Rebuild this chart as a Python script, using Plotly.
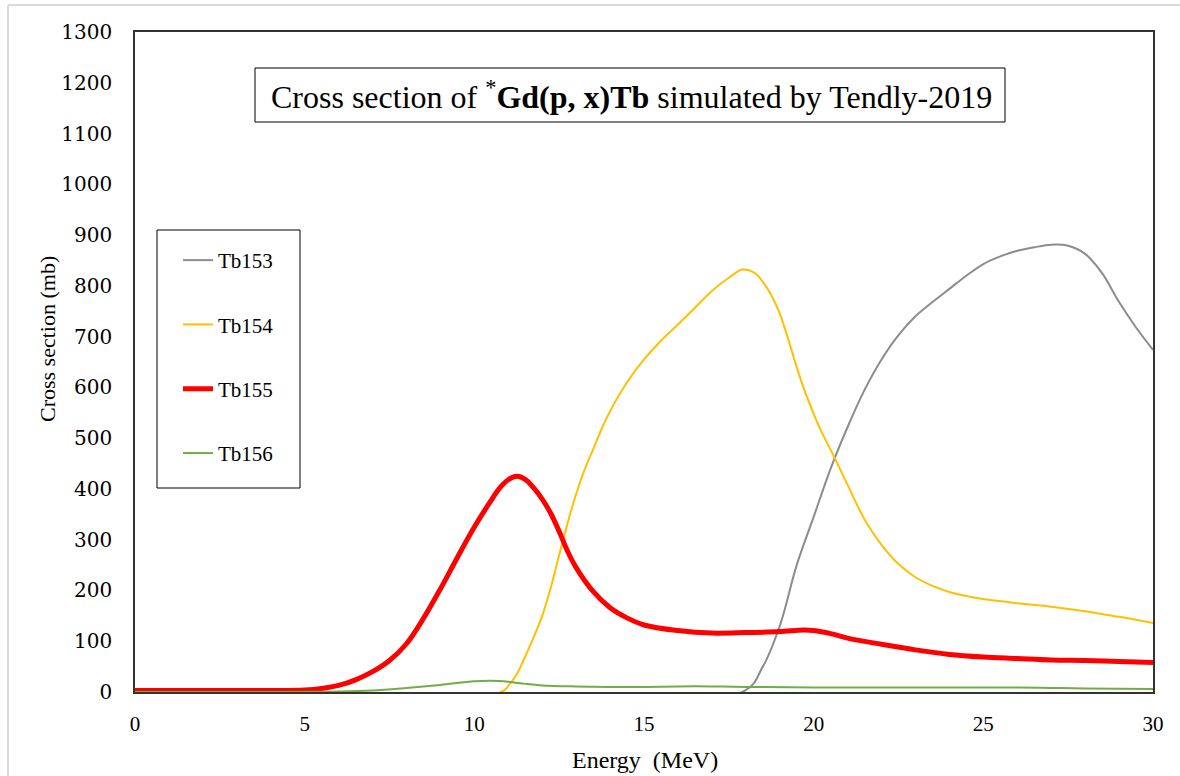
import plotly.graph_objects as go

# ---- data ----
e153 = [0, 17.9, 18.5, 19.0, 19.5, 20.0, 20.5, 21.0, 21.5, 22.0, 22.5, 23.0, 23.5, 24.0, 24.5, 25.0, 25.5, 26.0, 26.5, 27.0, 27.5, 28.0, 28.5, 29.0, 29.5, 30.0]
tb153 = [0, 0, 50, 130, 250, 345, 440, 522, 595, 655, 703, 740, 768, 794, 820, 843, 858, 869, 876, 881, 879, 863, 825, 768, 718, 674]

e154 = [0, 10.8, 11.0, 11.25, 11.5, 11.75, 12.0, 12.25, 12.5, 12.75, 13.0, 13.25, 13.5, 13.75, 14.0, 14.5, 15.0, 15.5, 16.0, 16.5, 17.0, 17.5, 17.9, 18.25, 18.5, 18.75, 19.0, 19.25, 19.5, 19.75, 20.0, 20.25, 20.5, 20.75, 21.0, 21.5, 22.0, 22.5, 23.0, 23.5, 24.0, 24.5, 25.0, 26.0, 27.0, 28.0, 29.0, 30.0]
tb154 = [0, 0, 12, 35, 70, 108, 150, 205, 270, 333, 390, 438, 478, 518, 553, 610, 655, 692, 724, 757, 790, 816, 832, 826, 808, 782, 746, 695, 640, 590, 548, 510, 477, 443, 408, 340, 290, 252, 226, 209, 197, 189, 183, 175, 168, 159, 148, 136]

e155 = [0, 4.0, 5.0, 5.5, 6.0, 6.5, 7.0, 7.5, 8.0, 8.5, 9.0, 9.5, 10.0, 10.5, 10.75, 11.0, 11.25, 11.5, 11.75, 12.0, 12.25, 12.5, 12.75, 13.0, 13.5, 14.0, 14.5, 15.0, 16.0, 17.0, 18.0, 19.0, 19.7, 20.0, 20.5, 21.0, 22.0, 23.0, 24.0, 25.0, 26.0, 27.0, 28.0, 29.0, 30.0]
tb155 = [3, 3, 4, 7, 13, 24, 40, 62, 95, 145, 203, 265, 325, 378, 402, 418, 425, 419, 402, 380, 352, 316, 277, 245, 198, 166, 146, 132, 121, 116, 117, 119, 122, 121, 115, 106, 94, 83, 74, 69, 66, 63, 62, 60, 58]

e156 = [0, 6.0, 7.0, 8.0, 9.0, 10.0, 10.5, 11.0, 11.5, 12.0, 13.0, 14.0, 15.0, 16.0, 17.0, 18.0, 20.0, 22.0, 24.0, 26.0, 27.0, 28.0, 30.0]
tb156 = [0, 1, 3, 8, 14, 21, 22, 20, 16, 13, 11, 10, 10, 11, 11, 10, 9, 9, 9, 9, 8, 7, 6]

names = ["Tb153", "Tb154", "Tb155", "Tb156"]
colors = ["#8C8C8C", "#FFC000", "#FF0000", "#70AD47"]
widths = [2, 2, 5, 2]
series = [(e153, tb153), (e154, tb154), (e155, tb155), (e156, tb156)]

x_ticks = [0, 5, 10, 15, 20, 25, 30]
y_ticks = list(range(0, 1301, 100))

W, H = 1180, 776
L, R, T, B = 135, 1153, 32, 692


def px(xp):
    return (xp - L) / (R - L)


def py(yp):
    return (B - yp) / (B - T)


fig = go.Figure()
for (x, y), n, c, w in zip(series, names, colors, widths):
    fig.add_trace(go.Scatter(x=x, y=y, name=n, mode="lines",
                             line=dict(color=c, width=w, shape="spline", smoothing=1.0),
                             legendgroup=n))

serif = "Liberation Serif"
yfont = "DejaVu Serif"

fig.update_layout(
    width=W, height=H,
    margin=dict(l=L, r=W - R, t=T, b=H - B),
    paper_bgcolor="white", plot_bgcolor="white",
    font=dict(family=serif, color="black"),
    showlegend=True,
    legend=dict(x=px(178), y=py(240), xanchor="left", yanchor="top",
                bgcolor="rgba(0,0,0,0)", borderwidth=0,
                font=dict(family=serif, size=21, color="black"),
                tracegroupgap=34, itemwidth=30),
    xaxis=dict(range=[0, 30], tickvals=x_ticks, showgrid=False, zeroline=False,
               showline=True, linecolor="#333333", linewidth=1.5, mirror=True,
               ticks="", tickfont=dict(family=serif, size=21, color="black"),
               ticklabelstandoff=12),
    yaxis=dict(range=[0, 1300], tickvals=y_ticks, showgrid=False, zeroline=False,
               showline=True, linecolor="#333333", linewidth=1.5, mirror=True,
               ticks="", tickfont=dict(family=yfont, size=20, color="black"),
               ticklabelstandoff=17),
    shapes=[
        dict(type="rect", xref="paper", yref="paper",
             x0=px(255), x1=px(1005), y0=py(122), y1=py(68),
             line=dict(color="black", width=1), fillcolor="white", layer="below"),
        dict(type="rect", xref="paper", yref="paper",
             x0=px(157), x1=px(300), y0=py(488), y1=py(230),
             line=dict(color="black", width=1), fillcolor="white", layer="below"),
        dict(type="line", xref="paper", yref="paper",
             x0=px(8), x1=px(1182), y0=py(5), y1=py(5),
             line=dict(color="#D9D9D9", width=2)),
        dict(type="line", xref="paper", yref="paper",
             x0=px(8), x1=px(8), y0=py(5), y1=py(778),
             line=dict(color="#D9D9D9", width=2)),
    ],
    annotations=[
        dict(text="Cross section of <sup>*</sup><b>Gd(p, x)Tb</b> simulated by Tendly-2019",
             xref="paper", yref="paper", x=px(631), y=py(95),
             xanchor="center", yanchor="middle", showarrow=False,
             font=dict(family=serif, size=32, color="black")),
        dict(text="Cross section (mb)", xref="paper", yref="paper",
             x=px(47), y=py(339), xanchor="center", yanchor="middle",
             textangle=-90, showarrow=False,
             font=dict(family=serif, size=22, color="black")),
        dict(text="Energy  (MeV)", xref="paper", yref="paper",
             x=px(645), y=py(760), xanchor="center", yanchor="middle",
             showarrow=False, font=dict(family=serif, size=24, color="black")),
    ],
)

fig.write_html("out.html")
